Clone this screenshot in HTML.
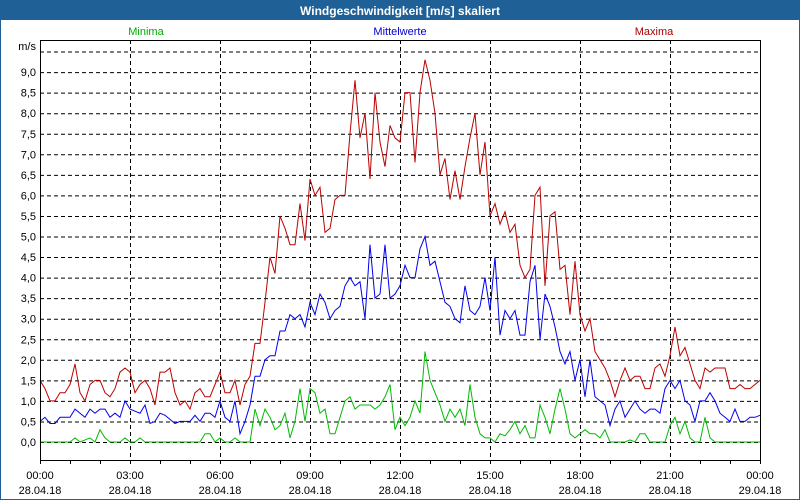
<!DOCTYPE html>
<html><head><meta charset="utf-8"><style>
body{margin:0;width:800px;height:500px;overflow:hidden;background:#fff;font-family:"Liberation Sans",sans-serif}
</style></head><body>
<svg width="800" height="500" style="display:block">
<rect x="0" y="0" width="800" height="500" fill="#fff" stroke="#1f6096" stroke-width="2"/>
<rect x="0" y="0" width="800" height="20" fill="#1f6096"/>
<text x="400" y="15" text-anchor="middle" fill="#fff" font-size="12" font-weight="bold">Windgeschwindigkeit [m/s] skaliert</text>
<text x="146" y="35" text-anchor="middle" fill="#00aa00" font-size="11">Minima</text>
<text x="400" y="35" text-anchor="middle" fill="#0000cc" font-size="11">Mittelwerte</text>
<text x="654" y="35" text-anchor="middle" fill="#aa0000" font-size="11">Maxima</text>
<text x="36" y="50" text-anchor="end" font-size="11">m/s</text>
<g id="grid"></g><g id="series"></g><g id="axes"></g>
</svg>
<script>
const yTicks=[0,0.5,1,1.5,2,2.5,3,3.5,4,4.5,5,5.5,6,6.5,7,7.5,8,8.5,9,9.5];
const xTimes=["00:00","03:00","06:00","09:00","12:00","15:00","18:00","21:00","00:00"];
const xDates=["28.04.18","28.04.18","28.04.18","28.04.18","28.04.18","28.04.18","28.04.18","28.04.18","29.04.18"];
const maxima=[1.5,1.3,1.0,1.0,1.2,1.2,1.4,1.9,1.2,1.0,1.4,1.5,1.5,1.2,1.1,1.3,1.7,1.8,1.7,1.2,1.4,1.5,1.3,0.9,1.7,1.7,1.8,1.2,0.9,1.0,0.8,1.2,1.3,1.1,1.1,1.4,1.7,1.2,1.2,1.5,0.9,1.4,1.6,2.4,2.4,3.4,4.5,4.1,5.5,5.2,4.8,4.8,5.8,4.9,6.4,6.0,6.2,5.1,5.2,5.9,6.0,6.0,7.5,8.8,7.4,8.0,6.4,8.5,7.3,6.7,7.7,7.4,7.3,8.5,8.5,6.8,8.5,9.3,8.8,8.0,6.5,6.9,5.9,6.6,5.9,6.7,7.4,8.0,6.5,7.3,5.5,5.8,5.3,5.6,5.1,5.3,4.3,4.0,4.2,6.0,6.2,3.8,5.5,5.6,4.2,4.3,3.1,4.4,3.1,2.7,3.0,2.2,2.0,1.8,1.5,1.1,1.5,1.8,1.5,1.6,1.6,1.3,1.3,1.8,1.9,1.6,2.1,2.8,2.1,2.3,1.9,1.5,1.3,1.8,1.7,1.8,1.8,1.8,1.3,1.3,1.4,1.3,1.3,1.4,1.5];
const mittel=[0.5,0.6,0.45,0.45,0.6,0.6,0.6,0.8,0.7,0.6,0.8,0.7,0.8,0.8,0.6,0.7,0.6,1.0,0.8,0.75,0.7,0.9,0.45,0.5,0.7,0.65,0.55,0.45,0.5,0.5,0.5,0.65,0.5,0.7,0.7,0.6,1.0,0.6,0.5,1.0,0.2,0.5,0.9,1.6,1.6,2.0,2.1,2.1,2.7,2.7,3.1,3.0,3.1,2.8,3.4,3.1,3.6,3.4,3.0,3.2,3.3,3.8,4.0,3.8,3.9,3.0,4.8,3.5,3.6,4.8,3.5,3.6,3.8,4.3,4.0,4.0,4.7,5.0,4.3,4.4,3.9,3.4,3.3,3.0,2.9,3.8,3.2,3.1,3.3,4.0,3.2,4.5,2.6,3.2,3.0,3.2,2.6,2.6,3.9,4.3,2.5,3.6,3.3,2.8,2.2,1.9,2.2,1.5,2.0,1.1,2.0,1.1,1.0,0.9,0.4,0.8,1.0,0.6,0.8,1.0,0.8,0.7,0.8,0.8,0.7,1.3,1.5,1.3,1.5,1.0,0.9,0.5,1.0,1.0,1.2,1.0,0.7,0.6,0.5,0.8,0.5,0.5,0.6,0.6,0.65];
const minima=[0,0,0,0,0,0,0,0.1,0,0.05,0.1,0,0.3,0.1,0,0,0,0.1,0,0,0.1,0,0,0,0,0,0,0,0,0,0,0,0,0.2,0.2,0,0.1,0,0,0.1,0,0,0,0.8,0.4,0.8,0.6,0.3,0.4,0.7,0.1,0.5,1.3,0.5,1.3,1.2,0.7,0.8,0.2,0.2,0.6,1.0,1.1,0.8,0.9,0.9,0.9,0.8,0.9,1.1,1.4,0.3,0.6,0.4,0.6,1.0,0.7,2.2,1.5,1.2,0.9,0.5,0.8,0.6,0.8,0.4,1.4,0.6,0.2,0.1,0.1,0,0.2,0.15,0.3,0.5,0.2,0.4,0.1,0.1,0.9,0.6,0.2,0.8,1.3,0.8,0.2,0.1,0.2,0.3,0.2,0.2,0.1,0.3,0,0,0,0,0.05,0,0.2,0.2,0,0,0,0,0.4,0.6,0.2,0.5,0.1,0,0,0.6,0.1,0,0,0,0,0,0,0,0,0,0];
const X0=40,X1=760,Y0=442,PER=41.1,TOP=40,BOT=460;
const NS="http://www.w3.org/2000/svg";
function yS(v){return Y0-v*PER;}
function xIdx(i,n){return X0+i*(X1-X0)/(n-1);}
function mk(t,a,p){const e=document.createElementNS(NS,t);for(const k in a)e.setAttribute(k,a[k]);p.appendChild(e);return e;}
const grid=document.getElementById('grid'),axes=document.getElementById('axes'),ser=document.getElementById('series');
yTicks.forEach(v=>{
 const l=mk('line',{x1:X0,x2:X1,y1:yS(v)+0.5,y2:yS(v)+0.5,stroke:'#000','stroke-dasharray':'4,3'},grid);
 
 
 if(v<9.5){const t=mk('text',{x:36,y:yS(v)+4,'text-anchor':'end','font-size':'11'},axes);t.textContent=v.toFixed(1).replace('.',',');
 
 }
});
xTimes.forEach((s,i)=>{
 const x=X0+i*(X1-X0)/(xTimes.length-1);
 if(i>0&&i<xTimes.length-1){const l=mk('line',{x1:x+0.5,x2:x+0.5,y1:TOP,y2:BOT,stroke:'#000','stroke-dasharray':'4,3'},grid);
 
 }
 const t=mk('text',{x:x,y:479,'text-anchor':'middle','font-size':'11'},axes);t.textContent=s;
 
 
 const d=mk('text',{x:x,y:494,'text-anchor':'middle','font-size':'11'},axes);d.textContent=xDates[i];
 
 
});
for(let h=0;h<=24;h++){const x=X0+h*30;const l=mk('line',{x1:x+0.5,x2:x+0.5,y1:BOT,y2:BOT+4,stroke:'#000'},axes);
 
 }
const box=mk('rect',{x:X0+0.5,y:TOP+0.5,width:X1-X0,height:BOT-TOP,fill:'none',stroke:'#000'},axes);


[[minima,'#00bb00','line-minima'],[mittel,'#0000ee','line-mittelwerte'],[maxima,'#bb0000','line-maxima']].forEach(([d,c,n])=>{
 const pts=d.map((v,i)=>xIdx(i,d.length).toFixed(1)+','+yS(v).toFixed(1)).join(' ');
 const p=mk('polyline',{points:pts,fill:'none',stroke:c,'stroke-width':1},ser);
 
 
});
</script>
</body></html>
